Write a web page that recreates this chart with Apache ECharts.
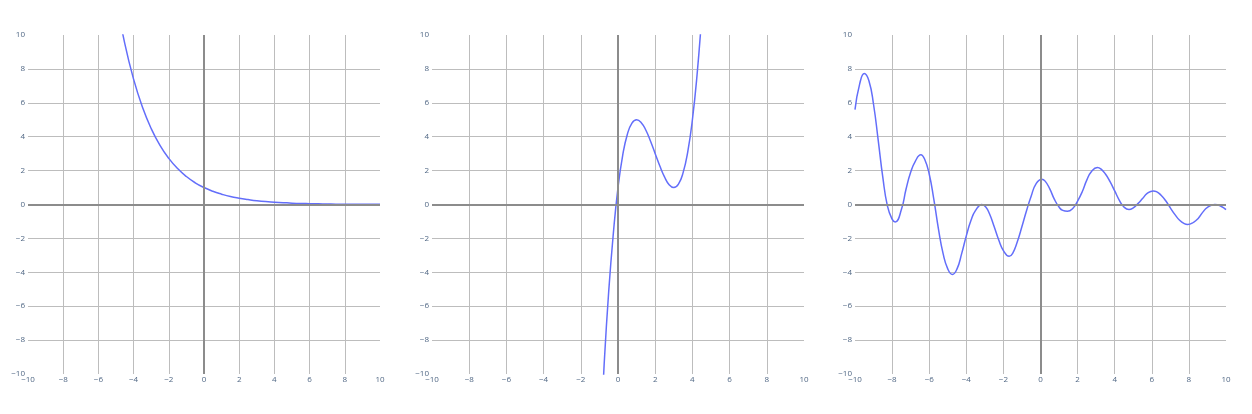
<!DOCTYPE html>
<html>
<head>
<meta charset="utf-8">
<script src="https://cdn.jsdelivr.net/npm/echarts@6/dist/echarts.min.js"></script>
<style>
html,body{margin:0;padding:0;background:#fff;}
#c{width:1252px;height:414px;}
</style>
</head>
<body>
<div id="c"></div>
<script>
// Panel 1 (decaying curve)
const p1x = [-5, -4.5, -4, -3.5, -3, -2.5, -2, -1.5, -1, -0.5, 0, 0.5, 1, 1.5, 2, 2.5, 3, 3.5, 4, 4.5, 5, 5.5, 6, 6.5, 7, 7.5, 8, 8.5, 9, 9.5, 10];
const p1y = [12.2, 9.49, 7.39, 5.75, 4.48, 3.49, 2.72, 2.12, 1.65, 1.28, 1, 0.78, 0.61, 0.47, 0.37, 0.29, 0.22, 0.17, 0.14, 0.11, 0.08, 0.06, 0.05, 0.04, 0.03, 0.02, 0.02, 0.01, 0.01, 0.01, 0.01];
// Panel 2 (cubic-like curve)
const p2x = [-1, -0.75, -0.5, -0.25, 0, 0.25, 0.5, 0.75, 1, 1.25, 1.5, 1.75, 2, 2.25, 2.5, 2.75, 3, 3.25, 3.5, 3.75, 4, 4.25, 4.5];
const p2y = [-15, -9.55, -5.13, -1.7, 1, 2.89, 4.13, 4.8, 5, 4.83, 4.38, 3.73, 3, 2.27, 1.63, 1.17, 1, 1.2, 1.88, 3.11, 5, 7.64, 11.1];
// Panel 3 (oscillating curve)
const p3x = [-10, -9.75, -9.5, -9.25, -9, -8.75, -8.5, -8.25, -8, -7.83, -7.5, -7.25, -7, -6.75, -6.45, -6.25,
  -6, -5.75, -5.5, -5.25, -5, -4.75, -4.5, -4.25, -4, -3.75, -3.5, -3.16, -2.95, -2.75, -2.5, -2.25,
  -2, -1.69, -1.5, -1.25, -1, -0.75, -0.5, -0.25, 0.07, 0.25, 0.5, 0.75, 1, 1.2, 1.45, 1.75,
  2, 2.25, 2.5, 2.75, 3.07, 3.25, 3.5, 3.75, 4, 4.25, 4.5, 4.77, 5, 5.25, 5.5, 5.75,
  6.08, 6.25, 6.5, 6.75, 7, 7.25, 7.5, 7.75, 7.93, 8.25, 8.5, 8.75, 9, 9.4, 9.75, 10];
const p3y = [5.6, 7.1, 7.73, 7.3, 5.9, 3.8, 1.6, -0.1, -0.86, -1.03, -0.3, 0.9, 1.9, 2.55, 2.93, 2.68,
  1.8, 0.3, -1.45, -2.9, -3.8, -4.13, -3.8, -2.9, -1.85, -0.95, -0.35, 0.0, -0.15, -0.55, -1.3, -2.1,
  -2.72, -3.05, -2.88, -2.2, -1.3, -0.35, 0.5, 1.2, 1.49, 1.38, 0.92, 0.3, -0.15, -0.35, -0.4, -0.22,
  0.2, 0.75, 1.45, 1.95, 2.18, 2.1, 1.8, 1.35, 0.8, 0.25, -0.15, -0.3, -0.2, 0.05, 0.35, 0.65,
  0.8, 0.76, 0.55, 0.22, -0.2, -0.6, -0.93, -1.13, -1.18, -1.05, -0.82, -0.45, -0.17, 0.0, -0.12, -0.3];
// Axis ticks
const axisMin = -10, axisMax = 10, tickStep = 2;

const zip = (xs, ys) => xs.map((x, i) => [x, ys[i]]);
const grids = [
  {left: 28, top: 35, width: 352, height: 339},
  {left: 432, top: 35, width: 372, height: 339},
  {left: 855, top: 35, width: 371, height: 339}
];
const fmt = v => String(v).replace('-', '\u2212');
const labelStyle = {fontSize: 8, color: '#506784', fontFamily: 'Open Sans', formatter: fmt};
const splitStyle = {show: true, showMinLine: false, showMaxLine: false, lineStyle: {color: '#bdbdbd', width: 1}};

const xAxes = grids.map((g, i) => ({
  type: 'value', gridIndex: i, min: axisMin, max: axisMax, interval: tickStep,
  axisLine: {show: false}, axisTick: {show: false},
  axisLabel: Object.assign({margin: 2}, labelStyle),
  splitLine: splitStyle
}));
const yAxes = grids.map((g, i) => ({
  type: 'value', gridIndex: i, min: axisMin, max: axisMax, interval: tickStep,
  axisLine: {show: false}, axisTick: {show: false},
  axisLabel: Object.assign({margin: 3}, labelStyle),
  splitLine: splitStyle
}));
const datasets = [zip(p1x, p1y), zip(p2x, p2y), zip(p3x, p3y)];
const series = [];
datasets.forEach((d, i) => {
  series.push({
    type: 'line', xAxisIndex: i, yAxisIndex: i, data: [], z: 1, silent: true,
    markLine: {
      silent: true, symbol: 'none', label: {show: false},
      lineStyle: {color: '#8c8c8c', width: 2, type: 'solid'},
      data: [{xAxis: 0}, {yAxis: 0}]
    }
  });
  series.push({
    type: 'line', xAxisIndex: i, yAxisIndex: i, data: d, z: 3,
    smooth: 0.5, showSymbol: false, clip: true,
    lineStyle: {color: '#636efa', width: 1.5}
  });
});

const chart = echarts.init(document.getElementById('c'), null, {renderer: 'canvas'});
chart.setOption({
  animation: false,
  backgroundColor: '#ffffff',
  grid: grids,
  xAxis: xAxes,
  yAxis: yAxes,
  series: series
});
</script>
</body>
</html>
